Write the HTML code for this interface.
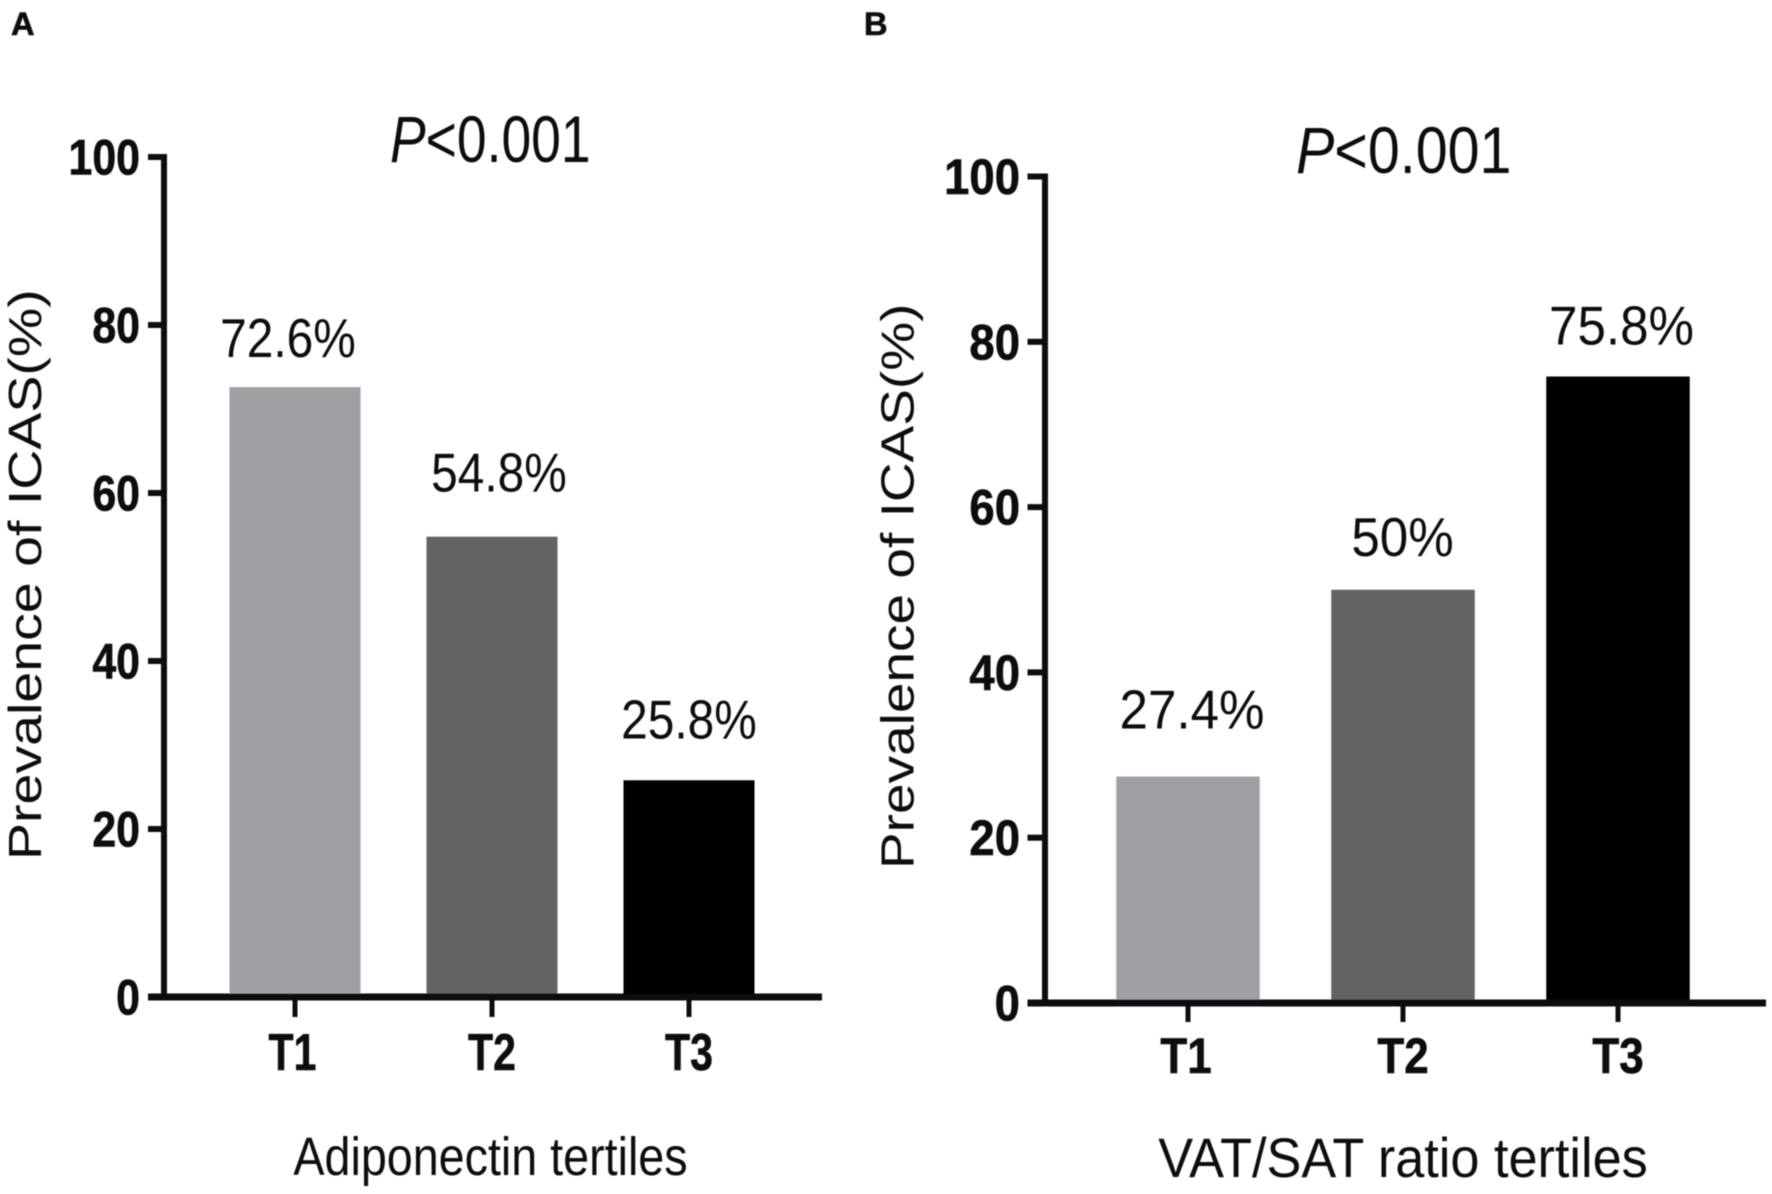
<!DOCTYPE html>
<html lang="en">
<head>
<meta charset="utf-8">
<title>Prevalence of ICAS by tertiles</title>
<style>
  html, body { margin: 0; padding: 0; background: #fff; }
  #figure { display: block; width: 1772px; height: 1194px; }
  text { font-family: "Liberation Sans", sans-serif; fill: #0a0a0a; }
  .bold { font-weight: 700; stroke: #0a0a0a; stroke-width: 0.6; }
</style>
</head>
<body>
<svg id="figure" xmlns="http://www.w3.org/2000/svg" width="1772" height="1194" viewBox="0 0 1772 1194">
  <defs>
    <filter id="soft" x="-2%" y="-2%" width="104%" height="104%"><feGaussianBlur stdDeviation="0.6"/></filter>
  </defs>
  <g id="root" filter="url(#soft)"></g>
</svg>
<script>
const categories = ['T1', 'T2', 'T3'];
const yTickValues = [0, 20, 40, 60, 80, 100];
const adiponectinValues = [72.6, 54.8, 25.8];
const adiponectinLabels = ['72.6%', '54.8%', '25.8%'];
const vatSatValues = [27.4, 50, 75.8];
const vatSatLabels = ['27.4%', '50%', '75.8%'];
const barColors = ['#a09fa3', '#636363', '#000000'];

const SVG_NS = 'http://www.w3.org/2000/svg';
const root = document.getElementById('root');

function shape(tag, parent, props) {
  const el = document.createElementNS(SVG_NS, tag);
  Object.keys(props).forEach(function (k) { el.setAttribute(k, props[k]); });
  parent.appendChild(el);
  return el;
}

function label(parent, str, x, y, size, sx, anchor, bold, rotated) {
  const el = document.createElementNS(SVG_NS, 'text');
  el.setAttribute('transform', 'translate(' + x + ' ' + y + ')' + (rotated ? ' rotate(-90)' : '') + ' scale(' + sx + ' 1)');
  el.setAttribute('font-size', size);
  el.setAttribute('text-anchor', anchor);
  if (bold) el.setAttribute('class', 'bold');
  el.textContent = str;
  parent.appendChild(el);
  return el;
}

function drawPanel(p) {
  const g = document.createElementNS(SVG_NS, 'g');
  
  
  root.appendChild(g);

  const yScale = function (v) { return p.y0 - v * (p.y0 - p.y100) / 100; };
  const xScale = function (i) { return p.firstCenter + i * p.step; };

  const letter = label(g, p.letter, p.letterX, 35, 32, 1.02, 'start', true, false);
  
  

  const pv = label(g, '', p.pX, p.pY, 66, p.pSx, 'start', false, false);
  
  
  const pi = document.createElementNS(SVG_NS, 'tspan');
  pi.setAttribute('font-style', 'italic');
  pi.textContent = 'P';
  pv.appendChild(pi);
  pv.appendChild(document.createTextNode('<0.001'));

  categories.forEach(function (cat, i) {
    const cx = xScale(i);
    const top = yScale(p.values[i]);
    const bar = shape('rect', g, { x: cx - p.barW / 2, y: top, width: p.barW, height: p.y0 - top, fill: barColors[i] });
    
    

    const vl = label(g, p.labels[i], cx + p.labelDx[i], top - p.labelGap[i], 55, p.labelSx, 'middle', false, false);
    
    

    const tick = shape('rect', g, { x: cx - 2.5, y: p.y0, width: 5, height: p.tickEnd - p.y0, fill: '#0a0a0a' });
    
    

    const tl = label(g, cat, cx + p.catDx[i], p.catY, p.catSize, p.catSx, 'middle', true, false);
    
    
  });

  const yAxis = shape('rect', g, { x: p.axisX - 3, y: p.y100 - 3, width: 6, height: p.y0 - p.y100 + 3, fill: '#0a0a0a' });
  
  

  const xAxis = shape('rect', g, { x: p.xStart, y: p.y0 - 3.5, width: p.xEnd - p.xStart, height: 7, fill: '#0a0a0a' });
  
  

  yTickValues.forEach(function (v) {
    const y = yScale(v);
    const t = shape('rect', g, { x: p.xStart, y: y - 3, width: p.axisX - p.xStart, height: 6, fill: '#0a0a0a' });
    
    

    const tl = label(g, String(v), p.yLabelX, y + 17.5, 50, p.yLabelSx, 'end', true, false);
    
    
  });

  const yTitle = label(g, 'Prevalence of ICAS(%)', p.yTitleX, p.yTitleY, 46, p.yTitleSx, 'start', false, true);
  
  

  const xTitle = label(g, p.xTitle, p.xTitleX, p.xTitleY, p.xTitleSize, p.xTitleSx, 'middle', false, false);
  
  
}

drawPanel({
  id: 'a', letter: 'A', letterX: 11,
  values: adiponectinValues, labels: adiponectinLabels,
  y0: 997, y100: 157, axisX: 164, xStart: 148, xEnd: 822,
  firstCenter: 295, step: 197, barW: 131, tickEnd: 1017,
  labelGap: [30, 45, 42], labelDx: [-7, 7, 0], labelSx: 0.87,
  catY: 1070, catSize: 52, catSx: 0.79, catDx: [-2.5, 0, 0],
  yLabelX: 140, yLabelSx: 0.857,
  yTitleX: 41, yTitleY: 860, yTitleSx: 1.207,
  pX: 390, pY: 162, pSx: 0.81,
  xTitle: 'Adiponectin tertiles', xTitleX: 490.5, xTitleY: 1175, xTitleSize: 54, xTitleSx: 0.864
});

drawPanel({
  id: 'b', letter: 'B', letterX: 864,
  values: vatSatValues, labels: vatSatLabels,
  y0: 1003, y100: 176.5, axisX: 1045, xStart: 1027.5, xEnd: 1766,
  firstCenter: 1188, step: 215, barW: 143.5, tickEnd: 1022,
  labelGap: [48, 34, 32], labelDx: [4, -0.5, 3.5], labelSx: 0.93,
  catY: 1073, catSize: 50, catSx: 0.88, catDx: [-2, 0, 0],
  yLabelX: 1020, yLabelSx: 0.91,
  yTitleX: 913.5, yTitleY: 869, yTitleSx: 1.196,
  pX: 1296, pY: 173, pSx: 0.87,
  xTitle: 'VAT/SAT ratio tertiles', xTitleX: 1403, xTitleY: 1177, xTitleSize: 56, xTitleSx: 0.933
});
</script>
</body>
</html>
